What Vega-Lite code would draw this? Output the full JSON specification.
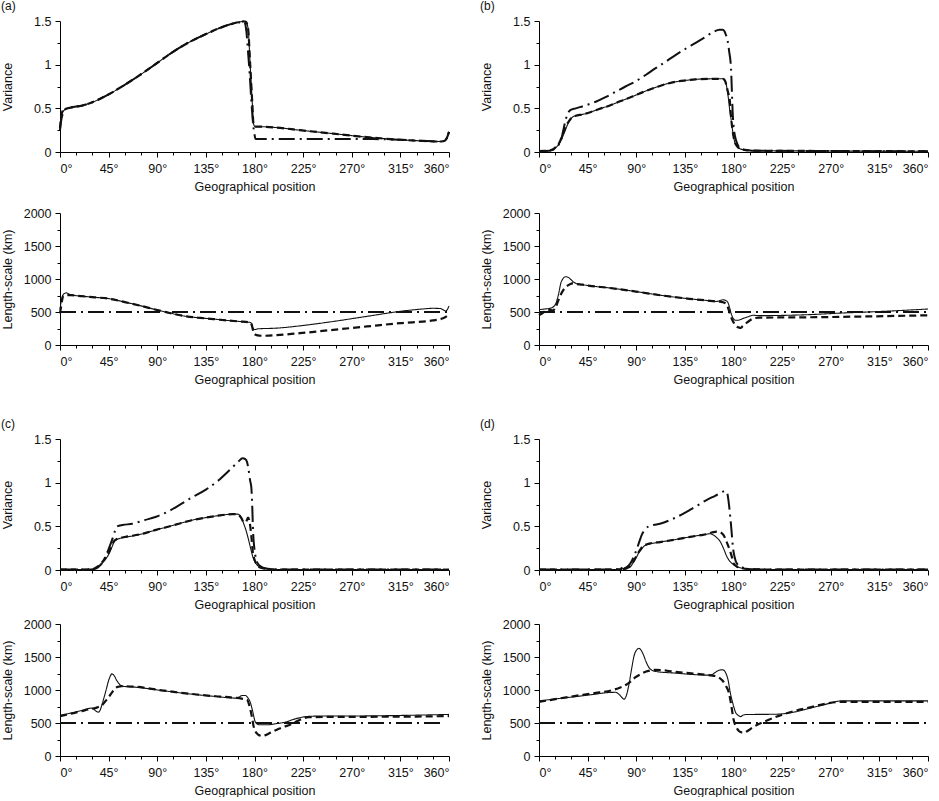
{
  "$schema": "https://vega.github.io/schema/vega-lite/v6.json",
  "background": "white",
  "padding": {"left": 0, "top": 0, "right": 0, "bottom": 0},
  "config": {
    "view": {"stroke": null},
    "font": "Liberation Sans",
    "axis": {
      "grid": false,
      "domainColor": "#000",
      "tickColor": "#000",
      "labelColor": "#111",
      "titleColor": "#111",
      "labelFontSize": 12.5,
      "titleFontSize": 12.5,
      "titleFontWeight": "normal",
      "labelFont": "Liberation Sans",
      "titleFont": "Liberation Sans"
    },
    "axisX": {"labelPadding": 5, "titlePadding": 6},
    "axisY": {"labelPadding": 4, "titleX": -46},
    "title": {"anchor": "start", "frame": "bounds", "fontSize": 12, "fontWeight": "normal", "font": "Liberation Sans", "offset": 2, "color": "#111"}
  },
  "datasets": {
    "av": [
      {"s":"dashdot","x":0,"y":0.25},{"s":"dashdot","x":1,"y":0.35},{"s":"dashdot","x":3,"y":0.45},{"s":"dashdot","x":6,"y":0.5},{"s":"dashdot","x":12,"y":0.515},{"s":"dashdot","x":20,"y":0.53},{"s":"dashdot","x":30,"y":0.57},{"s":"dashdot","x":45,"y":0.66},{"s":"dashdot","x":60,"y":0.77},{"s":"dashdot","x":75,"y":0.89},{"s":"dashdot","x":90,"y":1.02},{"s":"dashdot","x":105,"y":1.15},{"s":"dashdot","x":120,"y":1.26},{"s":"dashdot","x":135,"y":1.35},{"s":"dashdot","x":150,"y":1.43},{"s":"dashdot","x":160,"y":1.47},{"s":"dashdot","x":170,"y":1.49},{"s":"dashdot","x":171,"y":1.48},{"s":"dashdot","x":172.5,"y":1.38},{"s":"dashdot","x":174,"y":1.15},{"s":"dashdot","x":175.5,"y":0.9},{"s":"dashdot","x":177,"y":0.6},{"s":"dashdot","x":178.5,"y":0.35},{"s":"dashdot","x":180,"y":0.2},{"s":"dashdot","x":181,"y":0.15},{"s":"dashdot","x":200,"y":0.15},{"s":"dashdot","x":278,"y":0.15},{"s":"dashdot","x":290,"y":0.148},{"s":"dashdot","x":315,"y":0.14},{"s":"dashdot","x":340,"y":0.125},{"s":"dashdot","x":352,"y":0.12},{"s":"dashdot","x":356,"y":0.13},{"s":"dashdot","x":358,"y":0.16},{"s":"dashdot","x":360,"y":0.23},
      {"s":"dashed","x":0,"y":0.27},{"s":"dashed","x":1,"y":0.4},{"s":"dashed","x":2,"y":0.46},{"s":"dashed","x":4,"y":0.49},{"s":"dashed","x":7,"y":0.5},{"s":"dashed","x":12,"y":0.515},{"s":"dashed","x":20,"y":0.53},{"s":"dashed","x":30,"y":0.57},{"s":"dashed","x":45,"y":0.66},{"s":"dashed","x":60,"y":0.77},{"s":"dashed","x":75,"y":0.89},{"s":"dashed","x":90,"y":1.02},{"s":"dashed","x":105,"y":1.15},{"s":"dashed","x":120,"y":1.26},{"s":"dashed","x":135,"y":1.35},{"s":"dashed","x":150,"y":1.43},{"s":"dashed","x":160,"y":1.47},{"s":"dashed","x":170,"y":1.495},{"s":"dashed","x":172,"y":1.49},{"s":"dashed","x":174,"y":1.42},{"s":"dashed","x":176,"y":1.0},{"s":"dashed","x":178,"y":0.55},{"s":"dashed","x":179,"y":0.33},{"s":"dashed","x":180.5,"y":0.29},{"s":"dashed","x":185,"y":0.29},{"s":"dashed","x":200,"y":0.28},{"s":"dashed","x":222,"y":0.25},{"s":"dashed","x":253,"y":0.21},{"s":"dashed","x":284,"y":0.17},{"s":"dashed","x":315,"y":0.14},{"s":"dashed","x":340,"y":0.125},{"s":"dashed","x":352,"y":0.12},{"s":"dashed","x":356,"y":0.13},{"s":"dashed","x":358,"y":0.16},{"s":"dashed","x":360,"y":0.23},
      {"s":"solid","x":0,"y":0.25},{"s":"solid","x":1,"y":0.38},{"s":"solid","x":2,"y":0.44},{"s":"solid","x":4,"y":0.48},{"s":"solid","x":7,"y":0.5},{"s":"solid","x":12,"y":0.515},{"s":"solid","x":20,"y":0.53},{"s":"solid","x":30,"y":0.57},{"s":"solid","x":45,"y":0.66},{"s":"solid","x":60,"y":0.77},{"s":"solid","x":75,"y":0.89},{"s":"solid","x":90,"y":1.02},{"s":"solid","x":105,"y":1.15},{"s":"solid","x":120,"y":1.26},{"s":"solid","x":135,"y":1.35},{"s":"solid","x":150,"y":1.43},{"s":"solid","x":160,"y":1.47},{"s":"solid","x":170,"y":1.495},{"s":"solid","x":172,"y":1.49},{"s":"solid","x":174,"y":1.42},{"s":"solid","x":176,"y":1.0},{"s":"solid","x":178,"y":0.55},{"s":"solid","x":179,"y":0.33},{"s":"solid","x":180.5,"y":0.29},{"s":"solid","x":185,"y":0.29},{"s":"solid","x":200,"y":0.28},{"s":"solid","x":222,"y":0.25},{"s":"solid","x":253,"y":0.21},{"s":"solid","x":284,"y":0.17},{"s":"solid","x":315,"y":0.14},{"s":"solid","x":340,"y":0.125},{"s":"solid","x":352,"y":0.12},{"s":"solid","x":356,"y":0.13},{"s":"solid","x":358,"y":0.16},{"s":"solid","x":360,"y":0.23}
    ],
    "al": [
      {"s":"dashdot","x":0,"y":500},{"s":"dashdot","x":360,"y":500},
      {"s":"dashed","x":0,"y":480},{"s":"dashed","x":1,"y":580},{"s":"dashed","x":2,"y":680},{"s":"dashed","x":3,"y":745},{"s":"dashed","x":5,"y":755},{"s":"dashed","x":10,"y":755},{"s":"dashed","x":20,"y":740},{"s":"dashed","x":30,"y":725},{"s":"dashed","x":46,"y":700},{"s":"dashed","x":60,"y":650},{"s":"dashed","x":74,"y":597},{"s":"dashed","x":90,"y":530},{"s":"dashed","x":99,"y":495},{"s":"dashed","x":117,"y":434},{"s":"dashed","x":130,"y":410},{"s":"dashed","x":142,"y":393},{"s":"dashed","x":155,"y":372},{"s":"dashed","x":166,"y":357},{"s":"dashed","x":176,"y":342},{"s":"dashed","x":177.5,"y":300},{"s":"dashed","x":179,"y":200},{"s":"dashed","x":180,"y":170},{"s":"dashed","x":182,"y":150},{"s":"dashed","x":187,"y":140},{"s":"dashed","x":222,"y":179},{"s":"dashed","x":253,"y":230},{"s":"dashed","x":284,"y":281},{"s":"dashed","x":315,"y":332},{"s":"dashed","x":345,"y":372},{"s":"dashed","x":355,"y":408},{"s":"dashed","x":360,"y":459},
      {"s":"solid","x":0,"y":540},{"s":"solid","x":1,"y":650},{"s":"solid","x":2,"y":730},{"s":"solid","x":4,"y":780},{"s":"solid","x":6,"y":790},{"s":"solid","x":8,"y":775},{"s":"solid","x":10,"y":760},{"s":"solid","x":20,"y":740},{"s":"solid","x":30,"y":725},{"s":"solid","x":46,"y":700},{"s":"solid","x":60,"y":650},{"s":"solid","x":74,"y":597},{"s":"solid","x":90,"y":530},{"s":"solid","x":99,"y":495},{"s":"solid","x":117,"y":434},{"s":"solid","x":130,"y":410},{"s":"solid","x":142,"y":393},{"s":"solid","x":155,"y":372},{"s":"solid","x":166,"y":357},{"s":"solid","x":176,"y":342},{"s":"solid","x":177.5,"y":320},{"s":"solid","x":178.5,"y":260},{"s":"solid","x":180,"y":235},{"s":"solid","x":183,"y":245},{"s":"solid","x":200,"y":255},{"s":"solid","x":222,"y":290},{"s":"solid","x":253,"y":357},{"s":"solid","x":284,"y":434},{"s":"solid","x":315,"y":510},{"s":"solid","x":335,"y":545},{"s":"solid","x":345,"y":556},{"s":"solid","x":352,"y":553},{"s":"solid","x":355,"y":530},{"s":"solid","x":357,"y":515},{"s":"solid","x":360,"y":590}
    ],
    "bv": [
      {"s":"dashdot","x":0,"y":0.01},{"s":"dashdot","x":10,"y":0.015},{"s":"dashdot","x":15,"y":0.04},{"s":"dashdot","x":18,"y":0.08},{"s":"dashdot","x":20,"y":0.12},{"s":"dashdot","x":22,"y":0.22},{"s":"dashdot","x":24.7,"y":0.37},{"s":"dashdot","x":27,"y":0.45},{"s":"dashdot","x":29,"y":0.48},{"s":"dashdot","x":34,"y":0.5},{"s":"dashdot","x":42,"y":0.53},{"s":"dashdot","x":52.5,"y":0.575},{"s":"dashdot","x":62,"y":0.63},{"s":"dashdot","x":71,"y":0.69},{"s":"dashdot","x":80,"y":0.75},{"s":"dashdot","x":89.6,"y":0.81},{"s":"dashdot","x":99,"y":0.885},{"s":"dashdot","x":108,"y":0.96},{"s":"dashdot","x":118,"y":1.04},{"s":"dashdot","x":127,"y":1.115},{"s":"dashdot","x":136,"y":1.185},{"s":"dashdot","x":145,"y":1.25},{"s":"dashdot","x":153,"y":1.31},{"s":"dashdot","x":160.7,"y":1.37},{"s":"dashdot","x":167,"y":1.4},{"s":"dashdot","x":170,"y":1.4},{"s":"dashdot","x":171.5,"y":1.385},{"s":"dashdot","x":173,"y":1.34},{"s":"dashdot","x":174.6,"y":1.27},{"s":"dashdot","x":176,"y":1.15},{"s":"dashdot","x":177.7,"y":0.96},{"s":"dashdot","x":178.5,"y":0.7},{"s":"dashdot","x":179.2,"y":0.46},{"s":"dashdot","x":180.5,"y":0.25},{"s":"dashdot","x":182,"y":0.15},{"s":"dashdot","x":184,"y":0.08},{"s":"dashdot","x":186,"y":0.04},{"s":"dashdot","x":190,"y":0.025},{"s":"dashdot","x":200,"y":0.015},{"s":"dashdot","x":360,"y":0.008},
      {"s":"dashed","x":0,"y":0.01},{"s":"dashed","x":5,"y":0.012},{"s":"dashed","x":10,"y":0.018},{"s":"dashed","x":12,"y":0.025},{"s":"dashed","x":15,"y":0.05},{"s":"dashed","x":18.5,"y":0.1},{"s":"dashed","x":22,"y":0.2},{"s":"dashed","x":24.7,"y":0.29},{"s":"dashed","x":27,"y":0.34},{"s":"dashed","x":29,"y":0.375},{"s":"dashed","x":31,"y":0.4},{"s":"dashed","x":34,"y":0.415},{"s":"dashed","x":40,"y":0.43},{"s":"dashed","x":46,"y":0.45},{"s":"dashed","x":55,"y":0.49},{"s":"dashed","x":65,"y":0.53},{"s":"dashed","x":75,"y":0.58},{"s":"dashed","x":86.5,"y":0.635},{"s":"dashed","x":97,"y":0.69},{"s":"dashed","x":108,"y":0.74},{"s":"dashed","x":118,"y":0.78},{"s":"dashed","x":127,"y":0.805},{"s":"dashed","x":136,"y":0.82},{"s":"dashed","x":145,"y":0.832},{"s":"dashed","x":160,"y":0.838},{"s":"dashed","x":170,"y":0.838},{"s":"dashed","x":172,"y":0.82},{"s":"dashed","x":173.5,"y":0.76},{"s":"dashed","x":175,"y":0.68},{"s":"dashed","x":176.5,"y":0.6},{"s":"dashed","x":177.7,"y":0.4},{"s":"dashed","x":179,"y":0.26},{"s":"dashed","x":181,"y":0.12},{"s":"dashed","x":183,"y":0.07},{"s":"dashed","x":185.5,"y":0.04},{"s":"dashed","x":190,"y":0.025},{"s":"dashed","x":200,"y":0.015},{"s":"dashed","x":250,"y":0.012},{"s":"dashed","x":300,"y":0.01},{"s":"dashed","x":360,"y":0.008},
      {"s":"solid","x":0,"y":0.01},{"s":"solid","x":5,"y":0.012},{"s":"solid","x":10,"y":0.018},{"s":"solid","x":12,"y":0.025},{"s":"solid","x":15,"y":0.045},{"s":"solid","x":18.5,"y":0.09},{"s":"solid","x":21,"y":0.15},{"s":"solid","x":24.7,"y":0.26},{"s":"solid","x":27,"y":0.33},{"s":"solid","x":29,"y":0.37},{"s":"solid","x":31,"y":0.4},{"s":"solid","x":34,"y":0.415},{"s":"solid","x":40,"y":0.43},{"s":"solid","x":46,"y":0.45},{"s":"solid","x":55,"y":0.49},{"s":"solid","x":65,"y":0.53},{"s":"solid","x":75,"y":0.58},{"s":"solid","x":86.5,"y":0.635},{"s":"solid","x":97,"y":0.69},{"s":"solid","x":108,"y":0.74},{"s":"solid","x":118,"y":0.78},{"s":"solid","x":127,"y":0.805},{"s":"solid","x":136,"y":0.82},{"s":"solid","x":145,"y":0.832},{"s":"solid","x":160,"y":0.838},{"s":"solid","x":170,"y":0.838},{"s":"solid","x":172,"y":0.82},{"s":"solid","x":173.5,"y":0.76},{"s":"solid","x":175,"y":0.64},{"s":"solid","x":176.5,"y":0.48},{"s":"solid","x":177.7,"y":0.38},{"s":"solid","x":179,"y":0.26},{"s":"solid","x":181,"y":0.12},{"s":"solid","x":183,"y":0.07},{"s":"solid","x":185.5,"y":0.04},{"s":"solid","x":190,"y":0.025},{"s":"solid","x":200,"y":0.015},{"s":"solid","x":250,"y":0.012},{"s":"solid","x":300,"y":0.01},{"s":"solid","x":360,"y":0.008}
    ],
    "bl": [
      {"s":"dashdot","x":0,"y":500},{"s":"dashdot","x":360,"y":500},
      {"s":"dashed","x":0,"y":450},{"s":"dashed","x":4,"y":490},{"s":"dashed","x":7.7,"y":535},{"s":"dashed","x":10,"y":530},{"s":"dashed","x":13,"y":525},{"s":"dashed","x":15,"y":560},{"s":"dashed","x":18.5,"y":700},{"s":"dashed","x":22,"y":820},{"s":"dashed","x":24.7,"y":875},{"s":"dashed","x":28,"y":915},{"s":"dashed","x":31,"y":935},{"s":"dashed","x":34,"y":925},{"s":"dashed","x":40,"y":915},{"s":"dashed","x":46,"y":900},{"s":"dashed","x":65,"y":865},{"s":"dashed","x":89.6,"y":810},{"s":"dashed","x":114,"y":750},{"s":"dashed","x":139,"y":700},{"s":"dashed","x":155,"y":675},{"s":"dashed","x":164,"y":658},{"s":"dashed","x":168,"y":655},{"s":"dashed","x":170,"y":650},{"s":"dashed","x":173,"y":625},{"s":"dashed","x":175,"y":560},{"s":"dashed","x":177,"y":460},{"s":"dashed","x":179,"y":375},{"s":"dashed","x":181,"y":320},{"s":"dashed","x":183,"y":280},{"s":"dashed","x":185,"y":265},{"s":"dashed","x":186.5,"y":258},{"s":"dashed","x":188.5,"y":285},{"s":"dashed","x":193,"y":345},{"s":"dashed","x":198,"y":400},{"s":"dashed","x":204,"y":415},{"s":"dashed","x":250,"y":420},{"s":"dashed","x":312,"y":435},{"s":"dashed","x":360,"y":450},
      {"s":"solid","x":0,"y":535},{"s":"solid","x":5,"y":545},{"s":"solid","x":10,"y":555},{"s":"solid","x":12,"y":565},{"s":"solid","x":14,"y":590},{"s":"solid","x":15.5,"y":625},{"s":"solid","x":17,"y":700},{"s":"solid","x":18.5,"y":800},{"s":"solid","x":20,"y":925},{"s":"solid","x":22,"y":1000},{"s":"solid","x":24.7,"y":1035},{"s":"solid","x":27,"y":1025},{"s":"solid","x":29,"y":1000},{"s":"solid","x":31.5,"y":960},{"s":"solid","x":34,"y":935},{"s":"solid","x":40,"y":915},{"s":"solid","x":46,"y":900},{"s":"solid","x":65,"y":865},{"s":"solid","x":89.6,"y":810},{"s":"solid","x":114,"y":750},{"s":"solid","x":139,"y":700},{"s":"solid","x":155,"y":675},{"s":"solid","x":164,"y":660},{"s":"solid","x":167,"y":670},{"s":"solid","x":170,"y":685},{"s":"solid","x":172,"y":680},{"s":"solid","x":174.6,"y":650},{"s":"solid","x":176.5,"y":560},{"s":"solid","x":178,"y":470},{"s":"solid","x":179,"y":425},{"s":"solid","x":182,"y":375},{"s":"solid","x":185,"y":378},{"s":"solid","x":188.5,"y":400},{"s":"solid","x":193,"y":425},{"s":"solid","x":198,"y":450},{"s":"solid","x":204,"y":445},{"s":"solid","x":250,"y":460},{"s":"solid","x":281,"y":485},{"s":"solid","x":312,"y":505},{"s":"solid","x":360,"y":545}
    ],
    "cv": [
      {"s":"dashdot","x":0,"y":0.005},{"s":"dashdot","x":30,"y":0.007},{"s":"dashdot","x":33,"y":0.015},{"s":"dashdot","x":36,"y":0.04},{"s":"dashdot","x":39,"y":0.08},{"s":"dashdot","x":42,"y":0.15},{"s":"dashdot","x":45,"y":0.24},{"s":"dashdot","x":48.6,"y":0.36},{"s":"dashdot","x":51,"y":0.45},{"s":"dashdot","x":53,"y":0.5},{"s":"dashdot","x":58,"y":0.515},{"s":"dashdot","x":67,"y":0.53},{"s":"dashdot","x":78,"y":0.57},{"s":"dashdot","x":89,"y":0.61},{"s":"dashdot","x":100,"y":0.67},{"s":"dashdot","x":110,"y":0.74},{"s":"dashdot","x":122,"y":0.83},{"s":"dashdot","x":135,"y":0.92},{"s":"dashdot","x":148,"y":1.04},{"s":"dashdot","x":160,"y":1.18},{"s":"dashdot","x":165,"y":1.24},{"s":"dashdot","x":169,"y":1.28},{"s":"dashdot","x":171.5,"y":1.27},{"s":"dashdot","x":173,"y":1.24},{"s":"dashdot","x":174.5,"y":1.15},{"s":"dashdot","x":176,"y":1.02},{"s":"dashdot","x":177,"y":0.955},{"s":"dashdot","x":178,"y":0.7},{"s":"dashdot","x":178.5,"y":0.5},{"s":"dashdot","x":180,"y":0.23},{"s":"dashdot","x":181.5,"y":0.13},{"s":"dashdot","x":183,"y":0.076},{"s":"dashdot","x":186,"y":0.04},{"s":"dashdot","x":190,"y":0.02},{"s":"dashdot","x":200,"y":0.006},{"s":"dashdot","x":360,"y":0.005},
      {"s":"dashed","x":0,"y":0.005},{"s":"dashed","x":20,"y":0.005},{"s":"dashed","x":30,"y":0.008},{"s":"dashed","x":33,"y":0.025},{"s":"dashed","x":36,"y":0.05},{"s":"dashed","x":39,"y":0.09},{"s":"dashed","x":42,"y":0.14},{"s":"dashed","x":45.5,"y":0.21},{"s":"dashed","x":48,"y":0.28},{"s":"dashed","x":50,"y":0.33},{"s":"dashed","x":52,"y":0.35},{"s":"dashed","x":55,"y":0.365},{"s":"dashed","x":60,"y":0.378},{"s":"dashed","x":67,"y":0.392},{"s":"dashed","x":78,"y":0.42},{"s":"dashed","x":89,"y":0.46},{"s":"dashed","x":100,"y":0.495},{"s":"dashed","x":110,"y":0.53},{"s":"dashed","x":122,"y":0.57},{"s":"dashed","x":135,"y":0.6},{"s":"dashed","x":148,"y":0.625},{"s":"dashed","x":160,"y":0.64},{"s":"dashed","x":164,"y":0.64},{"s":"dashed","x":166,"y":0.625},{"s":"dashed","x":168,"y":0.59},{"s":"dashed","x":170,"y":0.55},{"s":"dashed","x":172,"y":0.55},{"s":"dashed","x":174,"y":0.6},{"s":"dashed","x":175.5,"y":0.55},{"s":"dashed","x":177,"y":0.4},{"s":"dashed","x":178.5,"y":0.2},{"s":"dashed","x":180,"y":0.12},{"s":"dashed","x":183,"y":0.05},{"s":"dashed","x":186,"y":0.025},{"s":"dashed","x":190,"y":0.015},{"s":"dashed","x":200,"y":0.006},{"s":"dashed","x":360,"y":0.005},
      {"s":"solid","x":0,"y":0.005},{"s":"solid","x":20,"y":0.005},{"s":"solid","x":30,"y":0.007},{"s":"solid","x":33,"y":0.02},{"s":"solid","x":36,"y":0.04},{"s":"solid","x":39,"y":0.076},{"s":"solid","x":42,"y":0.12},{"s":"solid","x":45.5,"y":0.19},{"s":"solid","x":48,"y":0.26},{"s":"solid","x":50,"y":0.32},{"s":"solid","x":52,"y":0.345},{"s":"solid","x":55,"y":0.36},{"s":"solid","x":60,"y":0.375},{"s":"solid","x":67,"y":0.39},{"s":"solid","x":78,"y":0.42},{"s":"solid","x":89,"y":0.46},{"s":"solid","x":100,"y":0.495},{"s":"solid","x":110,"y":0.53},{"s":"solid","x":122,"y":0.57},{"s":"solid","x":135,"y":0.6},{"s":"solid","x":148,"y":0.625},{"s":"solid","x":160,"y":0.64},{"s":"solid","x":164,"y":0.64},{"s":"solid","x":166,"y":0.63},{"s":"solid","x":168,"y":0.6},{"s":"solid","x":170,"y":0.53},{"s":"solid","x":172,"y":0.46},{"s":"solid","x":174,"y":0.37},{"s":"solid","x":176,"y":0.27},{"s":"solid","x":178.5,"y":0.15},{"s":"solid","x":181,"y":0.08},{"s":"solid","x":183,"y":0.05},{"s":"solid","x":186,"y":0.025},{"s":"solid","x":190,"y":0.015},{"s":"solid","x":200,"y":0.006},{"s":"solid","x":360,"y":0.005}
    ],
    "cl": [
      {"s":"dashdot","x":0,"y":500},{"s":"dashdot","x":356,"y":500},
      {"s":"dashed","x":0,"y":605},{"s":"dashed","x":10,"y":640},{"s":"dashed","x":20,"y":680},{"s":"dashed","x":29,"y":715},{"s":"dashed","x":32.5,"y":725},{"s":"dashed","x":35,"y":740},{"s":"dashed","x":38.6,"y":765},{"s":"dashed","x":42,"y":830},{"s":"dashed","x":45,"y":890},{"s":"dashed","x":48,"y":960},{"s":"dashed","x":51,"y":1028},{"s":"dashed","x":54,"y":1050},{"s":"dashed","x":57,"y":1058},{"s":"dashed","x":69.5,"y":1050},{"s":"dashed","x":94,"y":995},{"s":"dashed","x":119,"y":945},{"s":"dashed","x":144,"y":905},{"s":"dashed","x":162,"y":882},{"s":"dashed","x":168,"y":870},{"s":"dashed","x":173,"y":852},{"s":"dashed","x":176,"y":715},{"s":"dashed","x":178,"y":560},{"s":"dashed","x":179,"y":463},{"s":"dashed","x":182.4,"y":338},{"s":"dashed","x":185,"y":310},{"s":"dashed","x":187,"y":302},{"s":"dashed","x":190,"y":315},{"s":"dashed","x":193,"y":338},{"s":"dashed","x":202.5,"y":413},{"s":"dashed","x":215,"y":489},{"s":"dashed","x":224,"y":564},{"s":"dashed","x":230,"y":589},{"s":"dashed","x":250,"y":592},{"s":"dashed","x":317,"y":596},{"s":"dashed","x":360,"y":605},
      {"s":"solid","x":0,"y":615},{"s":"solid","x":10,"y":650},{"s":"solid","x":20,"y":690},{"s":"solid","x":29,"y":725},{"s":"solid","x":31,"y":715},{"s":"solid","x":32.5,"y":690},{"s":"solid","x":35.5,"y":665},{"s":"solid","x":37,"y":690},{"s":"solid","x":38.6,"y":765},{"s":"solid","x":41,"y":900},{"s":"solid","x":43,"y":1020},{"s":"solid","x":45,"y":1145},{"s":"solid","x":47,"y":1225},{"s":"solid","x":48,"y":1245},{"s":"solid","x":50,"y":1220},{"s":"solid","x":52.5,"y":1145},{"s":"solid","x":55,"y":1090},{"s":"solid","x":57,"y":1060},{"s":"solid","x":62,"y":1050},{"s":"solid","x":69.5,"y":1043},{"s":"solid","x":94,"y":992},{"s":"solid","x":119,"y":942},{"s":"solid","x":144,"y":902},{"s":"solid","x":162,"y":877},{"s":"solid","x":166,"y":895},{"s":"solid","x":168.5,"y":917},{"s":"solid","x":171.6,"y":917},{"s":"solid","x":173.5,"y":890},{"s":"solid","x":176,"y":816},{"s":"solid","x":178,"y":700},{"s":"solid","x":180.8,"y":514},{"s":"solid","x":184,"y":474},{"s":"solid","x":193,"y":474},{"s":"solid","x":200,"y":490},{"s":"solid","x":208.6,"y":514},{"s":"solid","x":218,"y":564},{"s":"solid","x":230,"y":600},{"s":"solid","x":240,"y":605},{"s":"solid","x":255,"y":605},{"s":"solid","x":317,"y":615},{"s":"solid","x":360,"y":630}
    ],
    "dv": [
      {"s":"dashdot","x":0,"y":0.005},{"s":"dashdot","x":70,"y":0.006},{"s":"dashdot","x":78,"y":0.01},{"s":"dashdot","x":81,"y":0.03},{"s":"dashdot","x":84.6,"y":0.076},{"s":"dashdot","x":88,"y":0.16},{"s":"dashdot","x":90.8,"y":0.25},{"s":"dashdot","x":93,"y":0.33},{"s":"dashdot","x":95,"y":0.4},{"s":"dashdot","x":98,"y":0.46},{"s":"dashdot","x":101.5,"y":0.5},{"s":"dashdot","x":106,"y":0.515},{"s":"dashdot","x":112,"y":0.53},{"s":"dashdot","x":124.6,"y":0.59},{"s":"dashdot","x":140,"y":0.69},{"s":"dashdot","x":155,"y":0.8},{"s":"dashdot","x":163,"y":0.85},{"s":"dashdot","x":170.8,"y":0.9},{"s":"dashdot","x":172.5,"y":0.905},{"s":"dashdot","x":174,"y":0.89},{"s":"dashdot","x":175.5,"y":0.78},{"s":"dashdot","x":177,"y":0.61},{"s":"dashdot","x":178.5,"y":0.4},{"s":"dashdot","x":179.4,"y":0.27},{"s":"dashdot","x":181,"y":0.15},{"s":"dashdot","x":183,"y":0.076},{"s":"dashdot","x":188,"y":0.03},{"s":"dashdot","x":195,"y":0.01},{"s":"dashdot","x":210,"y":0.006},{"s":"dashdot","x":360,"y":0.005},
      {"s":"dashed","x":0,"y":0.005},{"s":"dashed","x":70,"y":0.006},{"s":"dashed","x":76,"y":0.01},{"s":"dashed","x":77,"y":0.035},{"s":"dashed","x":78,"y":0.01},{"s":"dashed","x":82,"y":0.025},{"s":"dashed","x":85,"y":0.05},{"s":"dashed","x":88,"y":0.11},{"s":"dashed","x":91,"y":0.18},{"s":"dashed","x":94,"y":0.24},{"s":"dashed","x":97,"y":0.28},{"s":"dashed","x":100,"y":0.295},{"s":"dashed","x":103,"y":0.305},{"s":"dashed","x":112,"y":0.32},{"s":"dashed","x":124.6,"y":0.345},{"s":"dashed","x":140,"y":0.38},{"s":"dashed","x":150,"y":0.4},{"s":"dashed","x":155,"y":0.41},{"s":"dashed","x":160,"y":0.43},{"s":"dashed","x":164.6,"y":0.44},{"s":"dashed","x":168,"y":0.43},{"s":"dashed","x":170.8,"y":0.4},{"s":"dashed","x":174,"y":0.31},{"s":"dashed","x":177,"y":0.21},{"s":"dashed","x":178.5,"y":0.15},{"s":"dashed","x":180,"y":0.076},{"s":"dashed","x":183,"y":0.04},{"s":"dashed","x":188,"y":0.02},{"s":"dashed","x":195,"y":0.01},{"s":"dashed","x":210,"y":0.006},{"s":"dashed","x":360,"y":0.005},
      {"s":"solid","x":0,"y":0.005},{"s":"solid","x":70,"y":0.006},{"s":"solid","x":75,"y":0.008},{"s":"solid","x":78.5,"y":0.02},{"s":"solid","x":82,"y":0.03},{"s":"solid","x":84.6,"y":0.04},{"s":"solid","x":87.7,"y":0.095},{"s":"solid","x":90,"y":0.14},{"s":"solid","x":92,"y":0.19},{"s":"solid","x":94.5,"y":0.23},{"s":"solid","x":97,"y":0.27},{"s":"solid","x":100,"y":0.29},{"s":"solid","x":103,"y":0.3},{"s":"solid","x":112,"y":0.32},{"s":"solid","x":124.6,"y":0.345},{"s":"solid","x":140,"y":0.38},{"s":"solid","x":150,"y":0.4},{"s":"solid","x":155,"y":0.41},{"s":"solid","x":158,"y":0.415},{"s":"solid","x":161.5,"y":0.4},{"s":"solid","x":164.5,"y":0.37},{"s":"solid","x":167.7,"y":0.325},{"s":"solid","x":171,"y":0.24},{"s":"solid","x":174,"y":0.15},{"s":"solid","x":176,"y":0.11},{"s":"solid","x":178.5,"y":0.076},{"s":"solid","x":183,"y":0.04},{"s":"solid","x":188,"y":0.02},{"s":"solid","x":195,"y":0.01},{"s":"solid","x":210,"y":0.006},{"s":"solid","x":360,"y":0.005}
    ],
    "dl": [
      {"s":"dashdot","x":0,"y":500},{"s":"dashdot","x":360,"y":500},
      {"s":"dashed","x":0,"y":820},{"s":"dashed","x":34,"y":911},{"s":"dashed","x":50,"y":950},{"s":"dashed","x":71,"y":1013},{"s":"dashed","x":80,"y":1073},{"s":"dashed","x":85,"y":1130},{"s":"dashed","x":89,"y":1190},{"s":"dashed","x":94,"y":1240},{"s":"dashed","x":98.6,"y":1276},{"s":"dashed","x":103,"y":1295},{"s":"dashed","x":108,"y":1306},{"s":"dashed","x":126,"y":1276},{"s":"dashed","x":157,"y":1225},{"s":"dashed","x":162,"y":1215},{"s":"dashed","x":166.5,"y":1190},{"s":"dashed","x":170,"y":1140},{"s":"dashed","x":173,"y":1060},{"s":"dashed","x":175.7,"y":962},{"s":"dashed","x":178,"y":760},{"s":"dashed","x":180,"y":557},{"s":"dashed","x":182.5,"y":440},{"s":"dashed","x":185,"y":380},{"s":"dashed","x":187.5,"y":358},{"s":"dashed","x":189.6,"y":354},{"s":"dashed","x":193,"y":380},{"s":"dashed","x":197.5,"y":430},{"s":"dashed","x":210,"y":532},{"s":"dashed","x":222,"y":608},{"s":"dashed","x":237,"y":684},{"s":"dashed","x":250,"y":734},{"s":"dashed","x":268,"y":800},{"s":"dashed","x":275,"y":815},{"s":"dashed","x":280,"y":820},{"s":"dashed","x":360,"y":820},
      {"s":"solid","x":0,"y":835},{"s":"solid","x":17,"y":868},{"s":"solid","x":34,"y":900},{"s":"solid","x":50,"y":932},{"s":"solid","x":64.7,"y":962},{"s":"solid","x":71,"y":965},{"s":"solid","x":74,"y":935},{"s":"solid","x":76.5,"y":890},{"s":"solid","x":78.6,"y":861},{"s":"solid","x":80.5,"y":900},{"s":"solid","x":83,"y":1063},{"s":"solid","x":85.5,"y":1300},{"s":"solid","x":88,"y":1519},{"s":"solid","x":90.5,"y":1610},{"s":"solid","x":92.5,"y":1630},{"s":"solid","x":95,"y":1590},{"s":"solid","x":97,"y":1519},{"s":"solid","x":99,"y":1430},{"s":"solid","x":101.7,"y":1342},{"s":"solid","x":105,"y":1295},{"s":"solid","x":108,"y":1281},{"s":"solid","x":126,"y":1256},{"s":"solid","x":157,"y":1225},{"s":"solid","x":160,"y":1232},{"s":"solid","x":163,"y":1266},{"s":"solid","x":166,"y":1295},{"s":"solid","x":169.5,"y":1306},{"s":"solid","x":171,"y":1300},{"s":"solid","x":172.6,"y":1266},{"s":"solid","x":175,"y":1150},{"s":"solid","x":177,"y":962},{"s":"solid","x":179.5,"y":790},{"s":"solid","x":182,"y":658},{"s":"solid","x":184.5,"y":615},{"s":"solid","x":186.5,"y":597},{"s":"solid","x":189,"y":620},{"s":"solid","x":191,"y":628},{"s":"solid","x":219,"y":633},{"s":"solid","x":237,"y":668},{"s":"solid","x":249.7,"y":719},{"s":"solid","x":268,"y":795},{"s":"solid","x":275,"y":825},{"s":"solid","x":280,"y":835},{"s":"solid","x":360,"y":835}
    ]
  },
  "spacing": 32,
  "vconcat": [
    {
      "spacing": 25,
      "hconcat": [
        {
          "spacing": 14,
          "vconcat": [
            {
              "title": "(a)",
              "width": 389, "height": 131,
              "data": {"name": "av"},
              "mark": {"type": "line", "interpolate": "monotone", "color": "#111"},
              "encoding": {
                "x": {"field": "x", "type": "quantitative", "scale": {"domain": [0, 360], "nice": false}, "axis": {"title": "Geographical position", "values": [0,15,30,45,60,75,90,105,120,135,150,165,180,195,210,225,240,255,270,285,300,315,330,345,360], "labelExpr": "datum.value % 45 === 0 ? datum.value + '°' : ''", "tickSize": {"condition": {"test": "datum.value % 45 === 0", "value": 5}, "value": 3}}},
                "y": {"field": "y", "type": "quantitative", "scale": {"domain": [0, 1.5], "nice": false}, "axis": {"title": "Variance", "values": [0,0.25,0.5,0.75,1,1.25,1.5], "labelExpr": "datum.value % 0.5 === 0 ? format(datum.value, '~g') : ''", "tickSize": {"condition": {"test": "datum.value % 0.5 === 0", "value": 5}, "value": 3}}},
                "strokeDash": {"field": "s", "type": "nominal", "scale": {"domain": ["dashdot", "dashed", "solid"], "range": [[16, 5, 2, 5], [7, 4], [1, 0]]}, "legend": null},
                "strokeWidth": {"field": "s", "type": "nominal", "scale": {"type": "ordinal", "domain": ["dashdot", "dashed", "solid"], "range": [2, 2.2, 1.1]}, "legend": null}
              }
            },
            {
              "width": 389, "height": 132,
              "data": {"name": "al"},
              "mark": {"type": "line", "interpolate": "monotone", "color": "#111"},
              "encoding": {
                "x": {"field": "x", "type": "quantitative", "scale": {"domain": [0, 360], "nice": false}, "axis": {"title": "Geographical position", "values": [0,15,30,45,60,75,90,105,120,135,150,165,180,195,210,225,240,255,270,285,300,315,330,345,360], "labelExpr": "datum.value % 45 === 0 ? datum.value + '°' : ''", "tickSize": {"condition": {"test": "datum.value % 45 === 0", "value": 5}, "value": 3}}},
                "y": {"field": "y", "type": "quantitative", "scale": {"domain": [0, 2000], "nice": false}, "axis": {"title": "Length-scale (km)", "values": [0,250,500,750,1000,1250,1500,1750,2000], "labelExpr": "datum.value % 500 === 0 ? format(datum.value, 'd') : ''", "tickSize": {"condition": {"test": "datum.value % 500 === 0", "value": 5}, "value": 3}}},
                "strokeDash": {"field": "s", "type": "nominal", "scale": {"domain": ["dashdot", "dashed", "solid"], "range": [[16, 5, 2, 5], [7, 4], [1, 0]]}, "legend": null},
                "strokeWidth": {"field": "s", "type": "nominal", "scale": {"type": "ordinal", "domain": ["dashdot", "dashed", "solid"], "range": [2, 2.2, 1.1]}, "legend": null}
              }
            }
          ]
        },
        {
          "spacing": 14,
          "vconcat": [
            {
              "title": "(b)",
              "width": 389, "height": 131,
              "data": {"name": "bv"},
              "mark": {"type": "line", "interpolate": "monotone", "color": "#111"},
              "encoding": {
                "x": {"field": "x", "type": "quantitative", "scale": {"domain": [0, 360], "nice": false}, "axis": {"title": "Geographical position", "values": [0,15,30,45,60,75,90,105,120,135,150,165,180,195,210,225,240,255,270,285,300,315,330,345,360], "labelExpr": "datum.value % 45 === 0 ? datum.value + '°' : ''", "tickSize": {"condition": {"test": "datum.value % 45 === 0", "value": 5}, "value": 3}}},
                "y": {"field": "y", "type": "quantitative", "scale": {"domain": [0, 1.5], "nice": false}, "axis": {"title": "Variance", "values": [0,0.25,0.5,0.75,1,1.25,1.5], "labelExpr": "datum.value % 0.5 === 0 ? format(datum.value, '~g') : ''", "tickSize": {"condition": {"test": "datum.value % 0.5 === 0", "value": 5}, "value": 3}}},
                "strokeDash": {"field": "s", "type": "nominal", "scale": {"domain": ["dashdot", "dashed", "solid"], "range": [[16, 5, 2, 5], [7, 4], [1, 0]]}, "legend": null},
                "strokeWidth": {"field": "s", "type": "nominal", "scale": {"type": "ordinal", "domain": ["dashdot", "dashed", "solid"], "range": [2, 2.2, 1.1]}, "legend": null}
              }
            },
            {
              "width": 389, "height": 132,
              "data": {"name": "bl"},
              "mark": {"type": "line", "interpolate": "monotone", "color": "#111"},
              "encoding": {
                "x": {"field": "x", "type": "quantitative", "scale": {"domain": [0, 360], "nice": false}, "axis": {"title": "Geographical position", "values": [0,15,30,45,60,75,90,105,120,135,150,165,180,195,210,225,240,255,270,285,300,315,330,345,360], "labelExpr": "datum.value % 45 === 0 ? datum.value + '°' : ''", "tickSize": {"condition": {"test": "datum.value % 45 === 0", "value": 5}, "value": 3}}},
                "y": {"field": "y", "type": "quantitative", "scale": {"domain": [0, 2000], "nice": false}, "axis": {"title": "Length-scale (km)", "values": [0,250,500,750,1000,1250,1500,1750,2000], "labelExpr": "datum.value % 500 === 0 ? format(datum.value, 'd') : ''", "tickSize": {"condition": {"test": "datum.value % 500 === 0", "value": 5}, "value": 3}}},
                "strokeDash": {"field": "s", "type": "nominal", "scale": {"domain": ["dashdot", "dashed", "solid"], "range": [[16, 5, 2, 5], [7, 4], [1, 0]]}, "legend": null},
                "strokeWidth": {"field": "s", "type": "nominal", "scale": {"type": "ordinal", "domain": ["dashdot", "dashed", "solid"], "range": [2, 2.2, 1.1]}, "legend": null}
              }
            }
          ]
        }
      ]
    },
    {
      "spacing": 25,
      "hconcat": [
        {
          "spacing": 7,
          "vconcat": [
            {
              "title": "(c)",
              "width": 389, "height": 131,
              "data": {"name": "cv"},
              "mark": {"type": "line", "interpolate": "monotone", "color": "#111"},
              "encoding": {
                "x": {"field": "x", "type": "quantitative", "scale": {"domain": [0, 360], "nice": false}, "axis": {"title": "Geographical position", "values": [0,15,30,45,60,75,90,105,120,135,150,165,180,195,210,225,240,255,270,285,300,315,330,345,360], "labelExpr": "datum.value % 45 === 0 ? datum.value + '°' : ''", "tickSize": {"condition": {"test": "datum.value % 45 === 0", "value": 5}, "value": 3}}},
                "y": {"field": "y", "type": "quantitative", "scale": {"domain": [0, 1.5], "nice": false}, "axis": {"title": "Variance", "values": [0,0.25,0.5,0.75,1,1.25,1.5], "labelExpr": "datum.value % 0.5 === 0 ? format(datum.value, '~g') : ''", "tickSize": {"condition": {"test": "datum.value % 0.5 === 0", "value": 5}, "value": 3}}},
                "strokeDash": {"field": "s", "type": "nominal", "scale": {"domain": ["dashdot", "dashed", "solid"], "range": [[16, 5, 2, 5], [7, 4], [1, 0]]}, "legend": null},
                "strokeWidth": {"field": "s", "type": "nominal", "scale": {"type": "ordinal", "domain": ["dashdot", "dashed", "solid"], "range": [2, 2.2, 1.1]}, "legend": null}
              }
            },
            {
              "width": 389, "height": 132,
              "data": {"name": "cl"},
              "mark": {"type": "line", "interpolate": "monotone", "color": "#111"},
              "encoding": {
                "x": {"field": "x", "type": "quantitative", "scale": {"domain": [0, 360], "nice": false}, "axis": {"title": "Geographical position", "values": [0,15,30,45,60,75,90,105,120,135,150,165,180,195,210,225,240,255,270,285,300,315,330,345,360], "labelExpr": "datum.value % 45 === 0 ? datum.value + '°' : ''", "tickSize": {"condition": {"test": "datum.value % 45 === 0", "value": 5}, "value": 3}}},
                "y": {"field": "y", "type": "quantitative", "scale": {"domain": [0, 2000], "nice": false}, "axis": {"title": "Length-scale (km)", "values": [0,250,500,750,1000,1250,1500,1750,2000], "labelExpr": "datum.value % 500 === 0 ? format(datum.value, 'd') : ''", "tickSize": {"condition": {"test": "datum.value % 500 === 0", "value": 5}, "value": 3}}},
                "strokeDash": {"field": "s", "type": "nominal", "scale": {"domain": ["dashdot", "dashed", "solid"], "range": [[16, 5, 2, 5], [7, 4], [1, 0]]}, "legend": null},
                "strokeWidth": {"field": "s", "type": "nominal", "scale": {"type": "ordinal", "domain": ["dashdot", "dashed", "solid"], "range": [2, 2.2, 1.1]}, "legend": null}
              }
            }
          ]
        },
        {
          "spacing": 7,
          "vconcat": [
            {
              "title": "(d)",
              "width": 389, "height": 131,
              "data": {"name": "dv"},
              "mark": {"type": "line", "interpolate": "monotone", "color": "#111"},
              "encoding": {
                "x": {"field": "x", "type": "quantitative", "scale": {"domain": [0, 360], "nice": false}, "axis": {"title": "Geographical position", "values": [0,15,30,45,60,75,90,105,120,135,150,165,180,195,210,225,240,255,270,285,300,315,330,345,360], "labelExpr": "datum.value % 45 === 0 ? datum.value + '°' : ''", "tickSize": {"condition": {"test": "datum.value % 45 === 0", "value": 5}, "value": 3}}},
                "y": {"field": "y", "type": "quantitative", "scale": {"domain": [0, 1.5], "nice": false}, "axis": {"title": "Variance", "values": [0,0.25,0.5,0.75,1,1.25,1.5], "labelExpr": "datum.value % 0.5 === 0 ? format(datum.value, '~g') : ''", "tickSize": {"condition": {"test": "datum.value % 0.5 === 0", "value": 5}, "value": 3}}},
                "strokeDash": {"field": "s", "type": "nominal", "scale": {"domain": ["dashdot", "dashed", "solid"], "range": [[16, 5, 2, 5], [7, 4], [1, 0]]}, "legend": null},
                "strokeWidth": {"field": "s", "type": "nominal", "scale": {"type": "ordinal", "domain": ["dashdot", "dashed", "solid"], "range": [2, 2.2, 1.1]}, "legend": null}
              }
            },
            {
              "width": 389, "height": 132,
              "data": {"name": "dl"},
              "mark": {"type": "line", "interpolate": "monotone", "color": "#111"},
              "encoding": {
                "x": {"field": "x", "type": "quantitative", "scale": {"domain": [0, 360], "nice": false}, "axis": {"title": "Geographical position", "values": [0,15,30,45,60,75,90,105,120,135,150,165,180,195,210,225,240,255,270,285,300,315,330,345,360], "labelExpr": "datum.value % 45 === 0 ? datum.value + '°' : ''", "tickSize": {"condition": {"test": "datum.value % 45 === 0", "value": 5}, "value": 3}}},
                "y": {"field": "y", "type": "quantitative", "scale": {"domain": [0, 2000], "nice": false}, "axis": {"title": "Length-scale (km)", "values": [0,250,500,750,1000,1250,1500,1750,2000], "labelExpr": "datum.value % 500 === 0 ? format(datum.value, 'd') : ''", "tickSize": {"condition": {"test": "datum.value % 500 === 0", "value": 5}, "value": 3}}},
                "strokeDash": {"field": "s", "type": "nominal", "scale": {"domain": ["dashdot", "dashed", "solid"], "range": [[16, 5, 2, 5], [7, 4], [1, 0]]}, "legend": null},
                "strokeWidth": {"field": "s", "type": "nominal", "scale": {"type": "ordinal", "domain": ["dashdot", "dashed", "solid"], "range": [2, 2.2, 1.1]}, "legend": null}
              }
            }
          ]
        }
      ]
    }
  ]
}
